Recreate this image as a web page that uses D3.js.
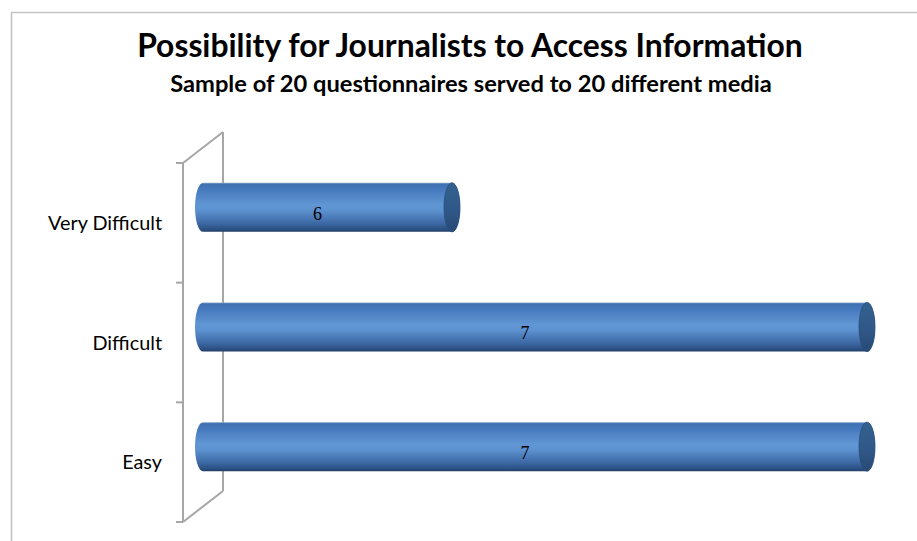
<!DOCTYPE html>
<html>
<head>
<meta charset="utf-8">
<script src="https://cdn.jsdelivr.net/npm/d3@7"></script>
<style>
  html, body { margin: 0; padding: 0; background: #fff; }
  svg { display: block; }
</style>
</head>
<body>
<svg id="chart" width="917" height="541"></svg>
<script>
// Survey responses: how easily journalists can access information
const categories = ["Very Difficult", "Difficult", "Easy"];
const counts = [6, 7, 7];
const titleText = "Possibility for Journalists to Access Information";
const subtitleText = "Sample of 20 questionnaires served to 20 different media";

const svg = d3.select("#chart");
const W = 917, H = 541;
const FONT = "Lato, 'Open Sans', sans-serif";

// Outer chart frame (runs off the right and bottom edges)
svg.append("path")
  .attr("d", `M11.5,${H + 2} L11.5,12.5 L${W + 2},12.5`)
  .attr("fill", "none")
  .attr("stroke", "#c3c3c3")
  .attr("stroke-width", 1.6);

// Scale a text's font size so it spans the given width
function fitText(sel, width, startSize) {
  sel.style("font-size", startSize + "px");
  const len = sel.node().getComputedTextLength();
  const size = startSize * width / len;
  sel.style("font-size", size.toFixed(2) + "px");
  return size;
}

const title = svg.append("text")
  .attr("x", 470).attr("y", 57)
  .attr("text-anchor", "middle")
  .style("font-family", FONT)
  .style("font-weight", "bold")
  .style("fill", "#000")
  .text(titleText);
fitText(title, 666, 26);

const subtitle = svg.append("text")
  .attr("x", 471).attr("y", 92)
  .attr("text-anchor", "middle")
  .style("font-family", FONT)
  .style("font-weight", "bold")
  .style("fill", "#000")
  .text(subtitleText);
fitText(subtitle, 602, 18);

// 3D wall geometry: front edge and depth offset
const frontX = 183;
const depth = { dx: 40, dy: -31 };
const y = d3.scaleBand().domain(categories).range([163, 522]).paddingInner(0).paddingOuter(0);

// Value axis measured at mid-depth of the box
const x = d3.scaleLinear().domain([5.4, 7]).range([frontX + depth.dx / 2, 867]);

const wall = svg.append("g")
  .attr("fill", "none")
  .attr("stroke", "#a6a6a6")
  .attr("stroke-width", 2);

const [y0, y1] = y.range();
// back wall edge
wall.append("line")
  .attr("x1", frontX + depth.dx).attr("y1", y0 + depth.dy)
  .attr("x2", frontX + depth.dx).attr("y2", y1 + depth.dy);
// top and bottom diagonals
wall.append("line")
  .attr("x1", frontX).attr("y1", y0)
  .attr("x2", frontX + depth.dx).attr("y2", y0 + depth.dy);
wall.append("line")
  .attr("x1", frontX).attr("y1", y1)
  .attr("x2", frontX + depth.dx).attr("y2", y1 + depth.dy);

// Category axis along the front edge with ticks at band boundaries
const boundaries = categories.map(c => y(c)).concat([y1]);
wall.append("line")
  .attr("x1", frontX).attr("y1", y0)
  .attr("x2", frontX).attr("y2", y1);
wall.selectAll("line.tick")
  .data(boundaries)
  .join("line")
  .attr("class", "tick")
  .attr("x1", frontX - 7).attr("x2", frontX)
  .attr("y1", d => d).attr("y2", d => d);

const catLabels = svg.append("g")
  .selectAll("text")
  .data(categories)
  .join("text")
  .attr("x", 162)
  .attr("y", d => y(d) + y.bandwidth() / 2)
  .attr("dy", "0.36em")
  .attr("text-anchor", "end")
  .style("font-family", FONT)
  .style("fill", "#000")
  .text(d => d);
// size all category labels from the longest one
const catSize = fitText(d3.select(catLabels.nodes()[0]), 114, 16);
catLabels.style("font-size", catSize.toFixed(2) + "px");

// Cylinder shading
const defs = svg.append("defs");
const body = defs.append("linearGradient")
  .attr("id", "cylBody").attr("x1", 0).attr("y1", 0).attr("x2", 0).attr("y2", 1);
[
  [0, "#8aa6c8"], [0.03, "#3f70b0"], [0.12, "#4578bb"], [0.45, "#6196d4"],
  [0.55, "#5e93d1"], [0.82, "#3d6aa6"], [0.95, "#2b5082"], [1, "#233f66"]
].forEach(([o, c]) => body.append("stop").attr("offset", o).attr("stop-color", c));

const cap = defs.append("linearGradient")
  .attr("id", "cylCap").attr("x1", 0).attr("y1", 0).attr("x2", 0).attr("y2", 1);
[[0, "#33618f"], [0.5, "#30598a"], [1, "#284a75"]]
  .forEach(([o, c]) => cap.append("stop").attr("offset", o).attr("stop-color", c));

const barH = y.bandwidth() * 0.41;
const rx = 8;
const data = categories.map((c, i) => ({ cat: c, value: counts[i] }));

const bars = svg.append("g").selectAll("g").data(data).join("g");

bars.each(function (d) {
  const g = d3.select(this);
  const cy = y(d.cat) + y.bandwidth() / 2 + depth.dy / 2;
  const yt = cy - barH / 2, yb = cy + barH / 2;
  const xs = x(x.domain()[0]), xe = x(d.value);
  const ry = barH / 2;

  g.append("path")
    .attr("d", `M${xs},${yt} L${xe},${yt} A${rx},${ry} 0 0 1 ${xe},${yb} L${xs},${yb} A${rx},${ry} 0 0 1 ${xs},${yt} Z`)
    .attr("fill", "url(#cylBody)");

  g.append("ellipse")
    .attr("cx", xe).attr("cy", cy)
    .attr("rx", rx).attr("ry", ry)
    .attr("fill", "url(#cylCap)")
    .attr("stroke", "#2a4c78")
    .attr("stroke-width", 0.8);

  g.append("text")
    .attr("x", (xs + xe) / 2 - 10)
    .attr("y", cy + 6)
    .attr("dy", "0.36em")
    .attr("text-anchor", "middle")
    .style("font-family", "'Liberation Serif', 'DejaVu Serif', serif")
    .style("font-size", "18px")
    .style("fill", "#000")
    .text(d.value);
});
</script>
</body>
</html>
